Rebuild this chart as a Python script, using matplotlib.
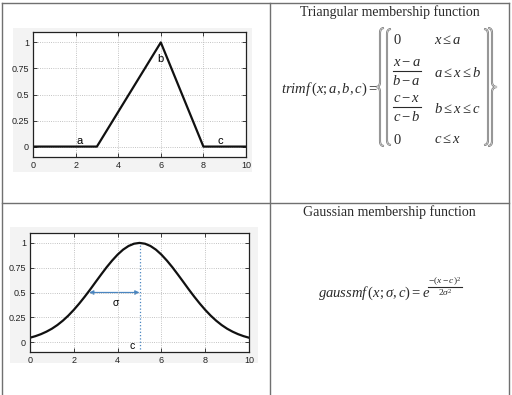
import numpy as np
import matplotlib
matplotlib.use('Agg')
import matplotlib.pyplot as plt
from matplotlib.path import Path
from matplotlib.patches import PathPatch, Rectangle, FancyArrowPatch

plt.rcParams['mathtext.fontset'] = 'custom'
plt.rcParams['mathtext.rm'] = 'Liberation Serif'
plt.rcParams['mathtext.it'] = 'Liberation Serif:italic'
plt.rcParams['font.family'] = ['Liberation Sans', 'DejaVu Sans']

# triangular membership (a=3, b=6, c=8)
tri_x = [0, 3, 6, 8, 10]
tri_y = [0, 0, 1, 0, 0]

# gaussian membership (c=5, sigma=2), every 0.25
gauss_x = np.linspace(0, 10, 41)
gauss_left = [0.044, 0.060, 0.080, 0.105, 0.135, 0.172, 0.216, 0.267, 0.325, 0.389,
              0.458, 0.531, 0.607, 0.682, 0.755, 0.822, 0.882, 0.932, 0.969, 0.992]
gauss_y = gauss_left + [1.000] + gauss_left[::-1]
gauss_c = 5
sigma_from = 2.7

xticks = [0, 2, 4, 6, 8, 10]
yticks = [0, 0.25, 0.5, 0.75, 1]
ytick_labels = ['0', '0.25', '0.5', '0.75', '1']

W, H = 512, 395
fig = plt.figure(figsize=(W / 100, H / 100), dpi=100)

def box(l, t, r, b):
    return [l / W, 1 - b / H, (r - l) / W, (b - t) / H]

# overlay in pixel coordinates for the table, formulas and brackets
ov = fig.add_axes([0, 0, 1, 1], zorder=0)
ov.set_xlim(0, W)
ov.set_ylim(H, 0)
ov.axis('off')

line_col = '#707070'
ov.plot([2, 509], [3, 3], color=line_col, lw=1)
ov.plot([2, 2], [3, 395], color=line_col, lw=1)
ov.plot([509, 509], [3, 395], color=line_col, lw=1)
ov.plot([270, 270], [3, 395], color=line_col, lw=1)
ov.plot([2, 509], [203, 203], color=line_col, lw=1)

ov.add_patch(Rectangle((13, 28), 239, 144, color='#f3f3f3', lw=0))
ov.add_patch(Rectangle((10, 227), 248, 136, color='#f3f3f3', lw=0))


def style_axes(ax):
    ax.set_xlim(0, 10)
    ax.set_ylim(-0.1, 1.1)
    ax.set_xticks(xticks)
    ax.set_yticks(yticks)
    ax.set_yticklabels(ytick_labels)
    ax.tick_params(direction='in', length=3, width=0.6, labelsize=6.5,
                   top=True, right=True, pad=3, colors='#222222')
    ax.grid(True, linestyle=':', color='#b0b0b0', lw=0.6)
    for s in ax.spines.values():
        s.set_linewidth(0.9)
        s.set_color('#222222')


ax1 = fig.add_axes(box(33, 32, 246, 157), zorder=2)
style_axes(ax1)
ax1.plot(tri_x, tri_y, color='#111111', lw=1.6)
ax1.text(2.17, 0.05, 'a', fontsize=8, ha='center', va='center')
ax1.text(6.0, 0.84, 'b', fontsize=8, ha='center', va='center')
ax1.text(8.8, 0.05, 'c', fontsize=8, ha='center', va='center')

ax2 = fig.add_axes(box(30, 233, 249, 352), zorder=2)
style_axes(ax2)
ax2.plot(gauss_x, gauss_y, color='#111111', lw=1.6)
ax2.plot([gauss_c, gauss_c], [-0.07, 1], color='#4a86c0', lw=0.9, ls=':')
ax2.add_patch(FancyArrowPatch((sigma_from, 0.5), (gauss_c, 0.5), arrowstyle='<|-|>',
                              mutation_scale=6, color='#4a86c0', lw=0.9,
                              shrinkA=0, shrinkB=0))
ax2.text(3.9, 0.39, 'σ', fontsize=7.5, ha='center', va='center')
ax2.text(4.65, -0.04, 'c', fontsize=7.5, ha='center', va='center')

# formulas
txt_col = '#2a2a2a'
fs = 10.5
ov.text(390, 12, 'Triangular membership function', fontsize=10,
        family='Liberation Serif', ha='center', va='center', color=txt_col)
ov.text(389, 212, 'Gaussian membership function', fontsize=10,
        family='Liberation Serif', ha='center', va='center', color=txt_col)


def mt(x, y, s, size=fs, ha='left'):
    ov.text(x, y, s, fontsize=size, ha=ha, va='center', color=txt_col)


def frac(xc, yline, num, den, half=14, size=fs, gap=9):
    mt(xc, yline - gap, num, size, 'center')
    mt(xc, yline + gap + 1, den, size, 'center')
    ov.plot([xc - half, xc + half], [yline, yline], color=txt_col, lw=0.8)


mt(281, 89, r'$trimf\,(x;a,b,c)=$')
mt(393, 40, r'$\mathrm{0}$')
frac(406.5, 71, r'$x-a$', r'$b-a$')
frac(406.5, 107, r'$c-x$', r'$c-b$')
mt(393, 140, r'$\mathrm{0}$')
mt(434, 40, r'$x\leq a$')
mt(434, 73, r'$a\leq x\leq b$')
mt(434, 109, r'$b\leq x\leq c$')
mt(434, 139, r'$c\leq x$')

mt(318, 293, r'$gaussmf\,(x;\sigma,c)=e$')
frac(445, 287, r'$-(x-c)^2$', r'$2\sigma^2$', half=17, size=6.8, gap=5)


def draw(verts, codes):
    p = Path(verts, codes)
    ov.add_patch(PathPatch(p, fill=False, edgecolor='#707070', lw=1.5))
    ov.add_patch(PathPatch(p, fill=False, edgecolor='white', lw=0.4))


def brace(tip, stem, end, top, bot, d=5):
    mid = (top + bot) / 2
    verts = [(end, top), (stem, top), (stem, top + d),
             (stem, mid - d), (stem, mid), (tip, mid),
             (stem, mid), (stem, mid + d),
             (stem, bot - d), (stem, bot), (end, bot)]
    codes = [Path.MOVETO, Path.CURVE3, Path.CURVE3,
             Path.LINETO, Path.CURVE3, Path.CURVE3,
             Path.CURVE3, Path.CURVE3,
             Path.LINETO, Path.CURVE3, Path.CURVE3]
    draw(verts, codes)


def bracket(stem, end, top, bot, d=5):
    verts = [(end, top), (stem, top), (stem, top + d),
             (stem, bot - d), (stem, bot), (end, bot)]
    codes = [Path.MOVETO, Path.CURVE3, Path.CURVE3,
             Path.LINETO, Path.CURVE3, Path.CURVE3]
    draw(verts, codes)


brace(376, 380, 384, 28, 146)
bracket(387, 391, 29, 145)
bracket(488, 484, 29, 145)
brace(497, 492, 488, 28, 146)

fig.savefig('out.png', dpi=100)
